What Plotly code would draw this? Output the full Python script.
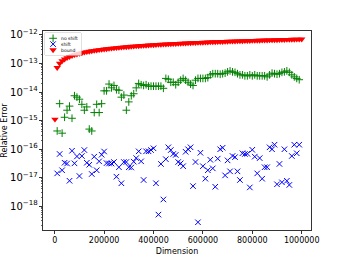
import plotly.graph_objects as go

# Dimension values
dims = [10000 * k for k in range(1, 100)]
bound_dims = [1000] + [10000 * k for k in range(1, 101)]

no_shift = [4.3e-16, 3.9e-15, 3.6e-16, 1.3e-15, 2.3e-15, 3.2e-15, 1.2e-15, 7.4e-15, 6.6e-15, 5.6e-15,
            3.7e-15, 2.3e-15, 3.0e-15, 5.0e-16, 4.3e-16, 1.9e-15, 3.7e-15, 1.9e-15, 3.9e-15, 1.1e-14,
            1.1e-14, 1.9e-14, 1.4e-14, 1.7e-14, 1.2e-14, 1.15e-14, 6.6e-15, 7.8e-15, 2.3e-15, 4.5e-15,
            7.4e-15, 8.7e-15, 1.4e-14, 2.0e-14, 1.8e-14, 1.7e-14, 1.8e-14, 1.6e-14, 1.6e-14, 1.6e-14,
            1.6e-14, 1.6e-14, 1.6e-14, 1.35e-14, 3.0e-14, 2.8e-14, 2.2e-14, 2.2e-14, 1.8e-14, 2.2e-14,
            2.6e-14, 3.0e-14, 2.6e-14, 2.2e-14, 1.9e-14, 1.7e-14, 2.6e-14, 3.0e-14, 3.0e-14, 3.0e-14,
            3.0e-14, 3.2e-14, 4.0e-14, 4.4e-14, 4.4e-14, 4.4e-14, 4.2e-14, 4.4e-14, 4.6e-14, 5.1e-14,
            5.5e-14, 5.1e-14, 4.9e-14, 4.4e-14, 4.0e-14, 4.0e-14, 3.7e-14, 3.7e-14, 4.0e-14, 3.7e-14,
            4.0e-14, 3.7e-14, 3.7e-14, 3.7e-14, 3.7e-14, 3.4e-14, 4.0e-14, 4.6e-14, 4.4e-14, 4.2e-14,
            4.4e-14, 4.9e-14, 5.1e-14, 5.5e-14, 4.9e-14, 4.0e-14, 3.4e-14, 3.0e-14, 2.7e-14]

shift = [1.4e-17, 6.7e-17, 1.8e-17, 3.3e-17, 3.1e-17, 7.7e-18, 8.7e-17, 3.15e-17, 5.5e-17, 1.13e-17,
         5.7e-17, 9.2e-17, 3.3e-17, 2.8e-17, 1.33e-17, 5.4e-17, 1.8e-17, 3.7e-17, 6.3e-17, 8.2e-17,
         3.2e-17, 3.1e-17, 3.1e-17, 3.5e-17, 1.07e-17, 2.3e-17, 6.3e-18, 3.5e-17, 3.5e-17, 2.3e-17,
         2.25e-17, 3.6e-17, 4.8e-17, 8.3e-17, 3.7e-17, 8.2e-18, 8.3e-17, 8.3e-17, 9.2e-17, 1.06e-16,
         6.3e-18, 5.0e-19, 3.0e-17, 1.7e-18, 4.4e-17, 1.15e-16, 9.2e-17, 6.7e-17, 6.2e-17, 3.5e-17,
         3.15e-17, 2.5e-17, 8.0e-17, 9.8e-17, 1.15e-16, 5.0e-18, 3.5e-17, 2.7e-19, 7.4e-17, 2.5e-17,
         9.1e-18, 1.8e-17, 4.2e-17, 2.1e-17, 4.75e-18, 4.6e-17, 9.8e-17, 1.11e-16, 1.19e-17, 4.0e-17,
         1.65e-17, 5.7e-17, 5.2e-17, 1.65e-17, 8.2e-18, 7.1e-17, 6.7e-17, 6.8e-17, 4.5e-18, 9.4e-17,
         5.4e-17, 1.4e-17, 4.8e-17, 9.1e-18, 2.3e-17, 2.3e-17, 1.15e-16, 9.8e-17, 1.42e-16, 5.8e-18,
         3.0e-17, 6.8e-18, 9.8e-17, 7.7e-18, 5.5e-18, 5.7e-17, 1.42e-16, 7.1e-17, 1.42e-16]

bound = [1.1e-15,
         7.1e-14, 1.00e-13, 1.23e-13, 1.42e-13, 1.59e-13, 1.74e-13, 1.88e-13, 2.01e-13, 2.13e-13, 2.25e-13,
         2.35e-13, 2.46e-13, 2.56e-13, 2.66e-13, 2.75e-13, 2.84e-13, 2.93e-13, 3.01e-13, 3.09e-13, 3.18e-13,
         3.25e-13, 3.33e-13, 3.41e-13, 3.48e-13, 3.55e-13, 3.62e-13, 3.69e-13, 3.76e-13, 3.82e-13, 3.89e-13,
         3.95e-13, 4.02e-13, 4.08e-13, 4.14e-13, 4.20e-13, 4.26e-13, 4.32e-13, 4.38e-13, 4.43e-13, 4.49e-13,
         4.55e-13, 4.60e-13, 4.66e-13, 4.71e-13, 4.76e-13, 4.82e-13, 4.87e-13, 4.92e-13, 4.97e-13, 5.02e-13,
         5.07e-13, 5.12e-13, 5.17e-13, 5.22e-13, 5.27e-13, 5.31e-13, 5.36e-13, 5.41e-13, 5.45e-13, 5.50e-13,
         5.55e-13, 5.59e-13, 5.64e-13, 5.68e-13, 5.72e-13, 5.77e-13, 5.81e-13, 5.85e-13, 5.90e-13, 5.94e-13,
         5.98e-13, 6.02e-13, 6.07e-13, 6.11e-13, 6.15e-13, 6.19e-13, 6.23e-13, 6.27e-13, 6.31e-13, 6.35e-13,
         6.39e-13, 6.43e-13, 6.47e-13, 6.51e-13, 6.55e-13, 6.58e-13, 6.62e-13, 6.66e-13, 6.70e-13, 6.74e-13,
         6.77e-13, 6.81e-13, 6.85e-13, 6.88e-13, 6.92e-13, 6.96e-13, 6.99e-13, 7.03e-13, 7.06e-13, 7.10e-13]

x_ticks = [0, 200000, 400000, 600000, 800000, 1000000]
x_tick_labels = ["0", "200000", "400000", "600000", "800000", "1000000"]

fig = go.Figure()
fig.add_trace(go.Scatter(x=dims, y=no_shift, mode="markers", name="no shift",
                         marker=dict(symbol="cross-thin", size=5.5, color="#008000",
                                     line=dict(width=1, color="#008000"))))
fig.add_trace(go.Scatter(x=dims, y=shift, mode="markers", name="shift",
                         marker=dict(symbol="x-thin", size=5.5, color="#0000ff",
                                     line=dict(width=1, color="#0000ff"))))
fig.add_trace(go.Scatter(x=bound_dims, y=bound, mode="markers", name="bound",
                         marker=dict(symbol="triangle-down", size=6.5, color="#ff0000",
                                     line=dict(width=0))))

font = dict(family="DejaVu Sans", size=8, color="#000000")
fig.update_layout(
    width=346, height=260,
    margin=dict(l=43, r=35, t=31, b=30, autoexpand=False),
    paper_bgcolor="white", plot_bgcolor="white",
    font=font,
    showlegend=True,
    legend=dict(x=0.004, y=0.995, xanchor="left", yanchor="top",
                font=dict(family="DejaVu Sans", size=4.5, color="#000000"),
                bgcolor="rgba(255,255,255,0.8)", bordercolor="#cccccc", borderwidth=0.6,
                itemwidth=30, tracegroupgap=0, itemsizing="trace"),
    xaxis=dict(range=[-47400, 1037700], tickmode="array", tickvals=x_ticks, ticktext=x_tick_labels,
               automargin=False,
               showgrid=False, zeroline=False, showline=True, mirror=True, linecolor="#000000",
               linewidth=0.8, ticks="outside", ticklen=3, tickcolor="#000000", tickwidth=0.8,
               title=dict(text="Dimension", font=font, standoff=3)),
    yaxis=dict(type="log", range=[-18.84, -11.86], dtick=1, exponentformat="power",
               automargin=False,
               showgrid=False, zeroline=False, showline=True, mirror=True, linecolor="#000000",
               linewidth=0.8, ticks="outside", ticklen=3, tickcolor="#000000", tickwidth=0.8,
               minor=dict(ticks="outside", ticklen=1.5, dtick="D1", tickcolor="#000000", tickwidth=0.6,
                          showgrid=False),
               title=dict(text="Relative Error", font=font, standoff=1)),
)

post = """
document.body.style.margin = '0';
var gd = document.getElementById('{plot_id}');
var items = gd.querySelectorAll('.legend .traces');
items.forEach(function(g, i) {
  g.setAttribute('transform', 'translate(0,' + (6.3 + 5.8 * i) + ')');
  var t = g.querySelector('.legendtext');
  if (t) { t.setAttribute('x', 17); }
  g.querySelectorAll('.legendpoints path').forEach(function(p) {
    p.setAttribute('transform', 'translate(9,0)');
  });
});
var bg = gd.querySelector('.legend .bg');
if (bg) { bg.setAttribute('width', 37); bg.setAttribute('height', 23); bg.setAttribute('rx', 1.5); }
"""
fig.write_html("out.html", post_script=post,
               config={"displayModeBar": False, "staticPlot": True})
